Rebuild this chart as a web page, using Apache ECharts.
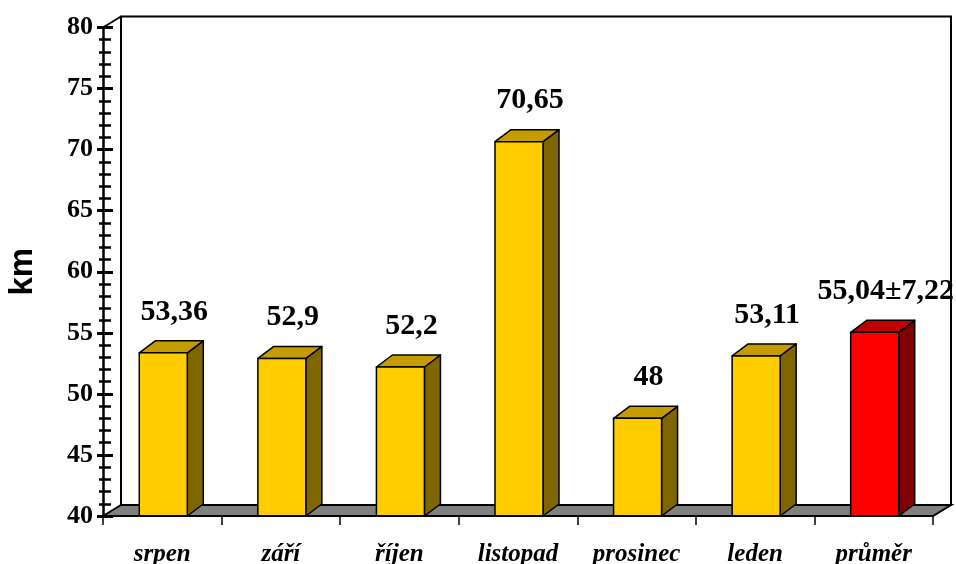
<!DOCTYPE html>
<html>
<head>
<meta charset="utf-8">
<script src="https://cdn.jsdelivr.net/npm/echarts@6/dist/echarts.min.js"></script>
<style>html,body{margin:0;padding:0;background:#fff;}#c{width:956px;height:564px;}</style>
</head>
<body>
<div id="c"></div>
<script>
const categories = ['srpen', 'září', 'říjen', 'listopad', 'prosinec', 'leden', 'průměr'];
const values = [53.36, 52.9, 52.2, 70.65, 48, 53.11, 55.04];
const meanSd = 7.22;
const yTicks = [40, 45, 50, 55, 60, 65, 70, 75, 80];

const fmt = v => String(v).replace('.', ',');
const valueLabels = values.map((v, i) => i === values.length - 1 ? fmt(v) + '±' + fmt(meanSd) : fmt(v));

const gold = { front: '#FFCC00', top: '#C49C00', side: '#7F6600' };
const red = { front: '#FF0000', top: '#C00000', side: '#800000' };

const chart = echarts.init(document.getElementById('c'), null, { renderer: 'canvas' });

const WDX = 18, WDY = -11;   // wall depth
const BDX = 16, BDY = -12;   // bar depth

function renderWalls(params, api) {
  const cs = params.coordSys;
  const x0 = cs.x, y0 = cs.y, x1 = cs.x + cs.width, y1 = cs.y + cs.height;
  const st = { stroke: '#000', lineWidth: 2 };
  return {
    type: 'group',
    children: [
      { type: 'rect', shape: { x: x0 + WDX, y: y0 + WDY, width: x1 - x0, height: y1 - y0 },
        style: { fill: '#fff', stroke: '#000', lineWidth: 2 } },
      { type: 'polygon', shape: { points: [[x0, y1], [x0 + WDX, y1 + WDY], [x1 + WDX, y1 + WDY], [x1, y1]] },
        style: { fill: '#808080', stroke: '#000', lineWidth: 2 } },
      { type: 'line', shape: { x1: x0, y1: y0, x2: x0 + WDX, y2: y0 + WDY }, style: st }
    ]
  };
}

function renderBars(params, api) {
  const idx = api.value(0), v = api.value(1);
  const top = api.coord([idx, v]);
  const base = api.coord([idx, 40]);
  const band = api.size([1, 0])[0];
  const w = band * 0.405;
  const xa = top[0] - w / 2 + 1, xb = xa + w;
  const yt = top[1], yb = base[1];
  const c = idx === categories.length - 1 ? red : gold;
  const st = { stroke: '#000', lineWidth: 1.5, lineJoin: 'round' };
  return {
    type: 'group',
    children: [
      { type: 'polygon', shape: { points: [[xb, yt], [xb + BDX, yt + BDY], [xb + BDX, yb + BDY], [xb, yb]] },
        style: Object.assign({ fill: c.side }, st) },
      { type: 'polygon', shape: { points: [[xa, yt], [xa + BDX, yt + BDY], [xb + BDX, yt + BDY], [xb, yt]] },
        style: Object.assign({ fill: c.top }, st) },
      { type: 'rect', shape: { x: xa, y: yt, width: w, height: yb - yt },
        style: Object.assign({ fill: c.front }, st) },
      { type: 'text', x: top[0] + 12, y: yt - 41,
        style: { text: valueLabels[idx], fill: '#000', font: 'bold 30px "Liberation Serif"',
                 align: 'center', verticalAlign: 'middle' } }
    ]
  };
}

const yCommon = { type: 'value', min: yTicks[0], max: yTicks[yTicks.length - 1], interval: 5, splitLine: { show: false } };

chart.setOption({
  animation: false,
  grid: { left: 103, right: 23, top: 27.5, bottom: 48, containLabel: false, outerBoundsMode: 'none' },
  xAxis: {
    type: 'category', data: categories, z: 10,
    axisLine: { lineStyle: { color: '#000', width: 2 } },
    axisTick: { show: true, length: 9, lineStyle: { color: '#000', width: 1.5 } },
    axisLabel: { margin: 26, color: '#000', fontFamily: 'Liberation Serif', fontWeight: 'bold', fontStyle: 'italic', fontSize: 25 }
  },
  yAxis: [
    Object.assign({}, yCommon, {
      z: 10,
      name: 'km', nameLocation: 'middle', nameRotate: 90, nameGap: 64,
      nameTextStyle: { fontFamily: 'Liberation Sans', fontWeight: 'bold', fontSize: 33, color: '#000' },
      axisLine: { show: true, lineStyle: { color: '#000', width: 2.5 } },
      axisTick: { show: true, length: 6, lineStyle: { color: '#000', width: 3 } },
      minorTick: { show: true, splitNumber: 5, length: 4, lineStyle: { color: '#000', width: 2.5 } },
      axisLabel: { margin: 10, color: '#000', fontFamily: 'Liberation Serif', fontWeight: 'bold', fontSize: 26 }
    }),
    Object.assign({}, yCommon, {
      z: 10, position: 'left',
      axisLine: { show: false },
      axisTick: { show: true, inside: true, length: 10, lineStyle: { color: '#000', width: 3 } },
      minorTick: { show: true, splitNumber: 5, length: 8, lineStyle: { color: '#000', width: 2.5 } },
      axisLabel: { show: false }
    })
  ],
  series: [
    { type: 'custom', renderItem: renderWalls, data: [[0, 40]], z: 1, silent: true },
    { type: 'custom', renderItem: renderBars, z: 3,
      data: values.map((v, i) => [i, v]) }
  ]
});
</script>
</body>
</html>
